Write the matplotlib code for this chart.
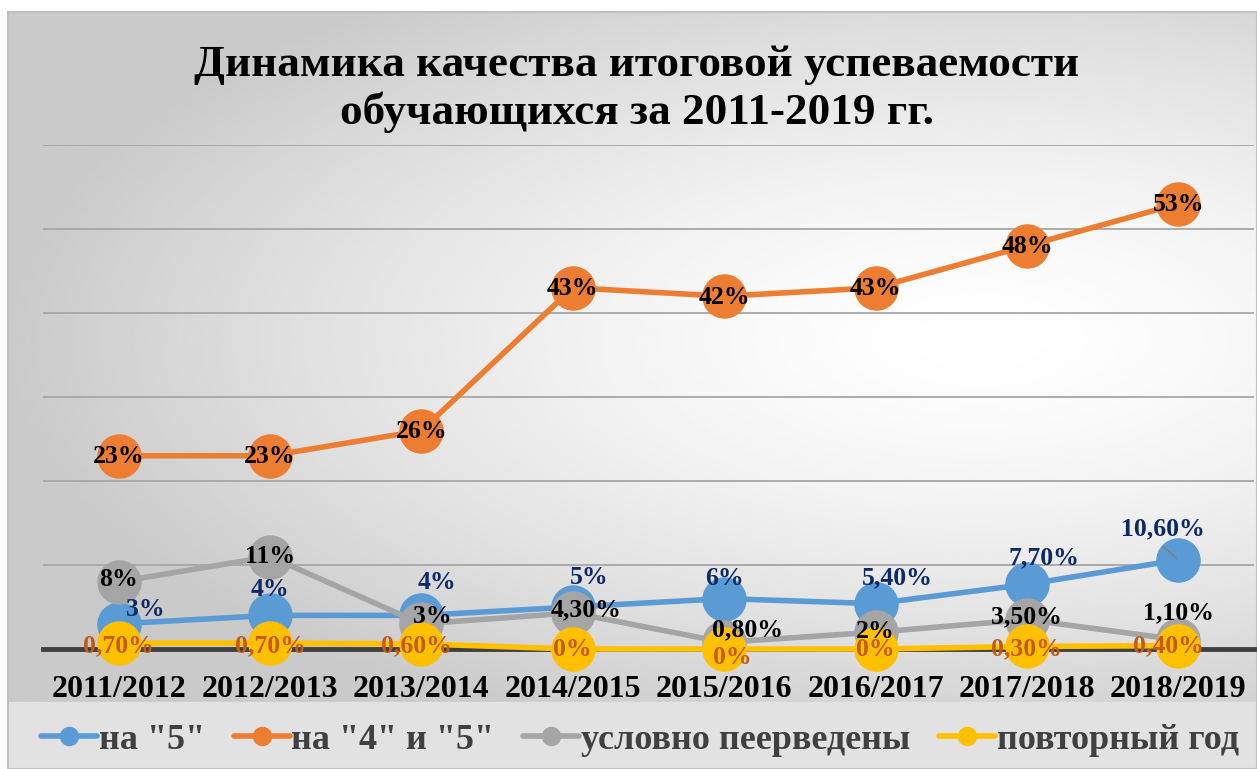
import numpy as np
import matplotlib.pyplot as plt
from matplotlib.lines import Line2D
from matplotlib.patches import Rectangle

plt.rcParams['font.family'] = ['Liberation Serif', 'DejaVu Serif']

years = ["2011/2012", "2012/2013", "2013/2014", "2014/2015",
         "2015/2016", "2016/2017", "2017/2018", "2018/2019"]

na5 = [3, 4, 4, 5, 6, 5.4, 7.7, 10.6]
na45 = [23, 23, 26, 43, 42, 43, 48, 53]
uslovno = [8, 11, 3, 4.3, 0.8, 2, 3.5, 1.1]
povtor = [0.7, 0.7, 0.6, 0, 0, 0, 0.3, 0.4]

lab_na5 = ["3%", "4%", "4%", "5%", "6%", "5,40%", "7,70%", "10,60%"]
lab_na45 = ["23%", "23%", "26%", "43%", "42%", "43%", "48%", "53%"]
lab_usl = ["8%", "11%", "3%", "4,30%", "0,80%", "2%", "3,50%", "1,10%"]
lab_pov = ["0,70%", "0,70%", "0,60%", "0%", "0%", "0%", "0,30%", "0,40%"]

names = ['на "5"', 'на "4" и "5"', 'условно пеерведены', 'повторный год']

# label offsets in pixels (dx, dy)
off_na5 = [(27, 14), (0, 26), (15, 33), (16, 29), (0, 20), (22, 26), (17, 27), (-15, 31)]
off_na45 = [(0, -1)] * 8
off_usl = [(0, 2), (0, 0), (11, 7), (13, 3), (23, 12), (0, 1), (0, 3), (0, 27)]
off_pov = [(0, -3), (0, -3), (-5, -2), (0, 0), (8, -9), (0, -1), (0, -2), (-10, 0)]

W, H = 1257, 769
fig = plt.figure(figsize=(W / 100, H / 100), dpi=100)

# background with radial-ish gradient
bg = fig.add_axes([8 / W, 0, 1 - 8 / W, (H - 12) / H], zorder=-10)
gx, gy = np.meshgrid(np.linspace(8, W, 400), np.linspace(12, H, 300))
r = np.sqrt(((gx - 980) / 980) ** 2 + ((gy - 340) / 430) ** 2)
r = np.clip(r, 0, 1)
shade = 1 - 0.21 * r ** 1.5
bg.imshow(shade, cmap='gray', vmin=0, vmax=1, aspect='auto',
          extent=[0, 1, 0, 1], origin='upper')
bg.add_patch(Rectangle((0, 0), 1, 67 / (H - 12), color='#E2E2E2', zorder=2))
bg.set_xlim(0, 1)
bg.set_ylim(0, 1)
bg.set_xticks([])
bg.set_yticks([])
for s in bg.spines.values():
    s.set_color('#C0C0C0')
    s.set_linewidth(1.5)

ax = fig.add_axes([43 / W, (H - 649) / H, (1254 - 43) / W, (649 - 145) / H])
ax.patch.set_alpha(0)
x = np.arange(len(years)) + 0.5

ax.set_xlim(0, 8)
ax.set_ylim(0, 60)
ax.set_yticks(np.arange(0, 61, 10))
ax.yaxis.grid(True, color='#A6A6A6', lw=1.3)
ax.set_axisbelow(True)
for s in ['top', 'right', 'left']:
    ax.spines[s].set_visible(False)
ax.spines['bottom'].set_color('#404040')
ax.spines['bottom'].set_linewidth(3.5)
ax.tick_params(axis='y', left=False, labelleft=False)
ax.tick_params(axis='x', bottom=False, pad=15)
ax.set_xticks(x)
ax.set_xticklabels(years, fontsize=23, fontweight='bold', color='black')

colors = ['#5B9BD5', '#ED7D31', '#A5A5A5', '#FFC000']
series = [na5, na45, uslovno, povtor]
labels = [lab_na5, lab_na45, lab_usl, lab_pov]
offsets = [off_na5, off_na45, off_usl, off_pov]
lab_colors = ['#0E2A66', 'black', 'black', '#C55A11']

for i, (vals, c) in enumerate(zip(series, colors)):
    ax.plot(x, vals, color=c, lw=4, marker='o', ms=31, mec=c,
            solid_capstyle='round', clip_on=False, zorder=3 + i)

for vals, labs, offs, lc in zip(series, labels, offsets, lab_colors):
    for xi, v, t, o in zip(x, vals, labs, offs):
        ax.annotate(t, (xi, v), xytext=o, textcoords='offset pixels',
                    ha='center', va='center', fontsize=18.5, fontweight='bold',
                    color=lc, zorder=10, annotation_clip=False)

# leader line for the last blue label
ax.annotate('', (x[-1], na5[-1]), xytext=(-17, 15), textcoords='offset pixels',
            arrowprops=dict(arrowstyle='-', color='#7F7F7F', lw=1.2), zorder=9)

fig.text(637 / W, 1 - 89 / H,
         'Динамика качества итоговой успеваемости\nобучающихся за 2011-2019 гг.',
         ha='center', va='center', fontsize=32.5, fontweight='bold',
         linespacing=1.22)

handles = [Line2D([], [], color=c, lw=4, marker='o', ms=13, solid_capstyle='round')
           for c in colors]
leg = fig.legend(handles, names, loc='center', bbox_to_anchor=(640 / W, 1 - 740 / H),
                 ncol=4, frameon=False, handlelength=1.55, handletextpad=0.05,
                 columnspacing=0.8, prop=dict(size=26, weight='bold'))
for t in leg.get_texts():
    t.set_color('#404040')

fig.savefig('out.png', dpi=100)
